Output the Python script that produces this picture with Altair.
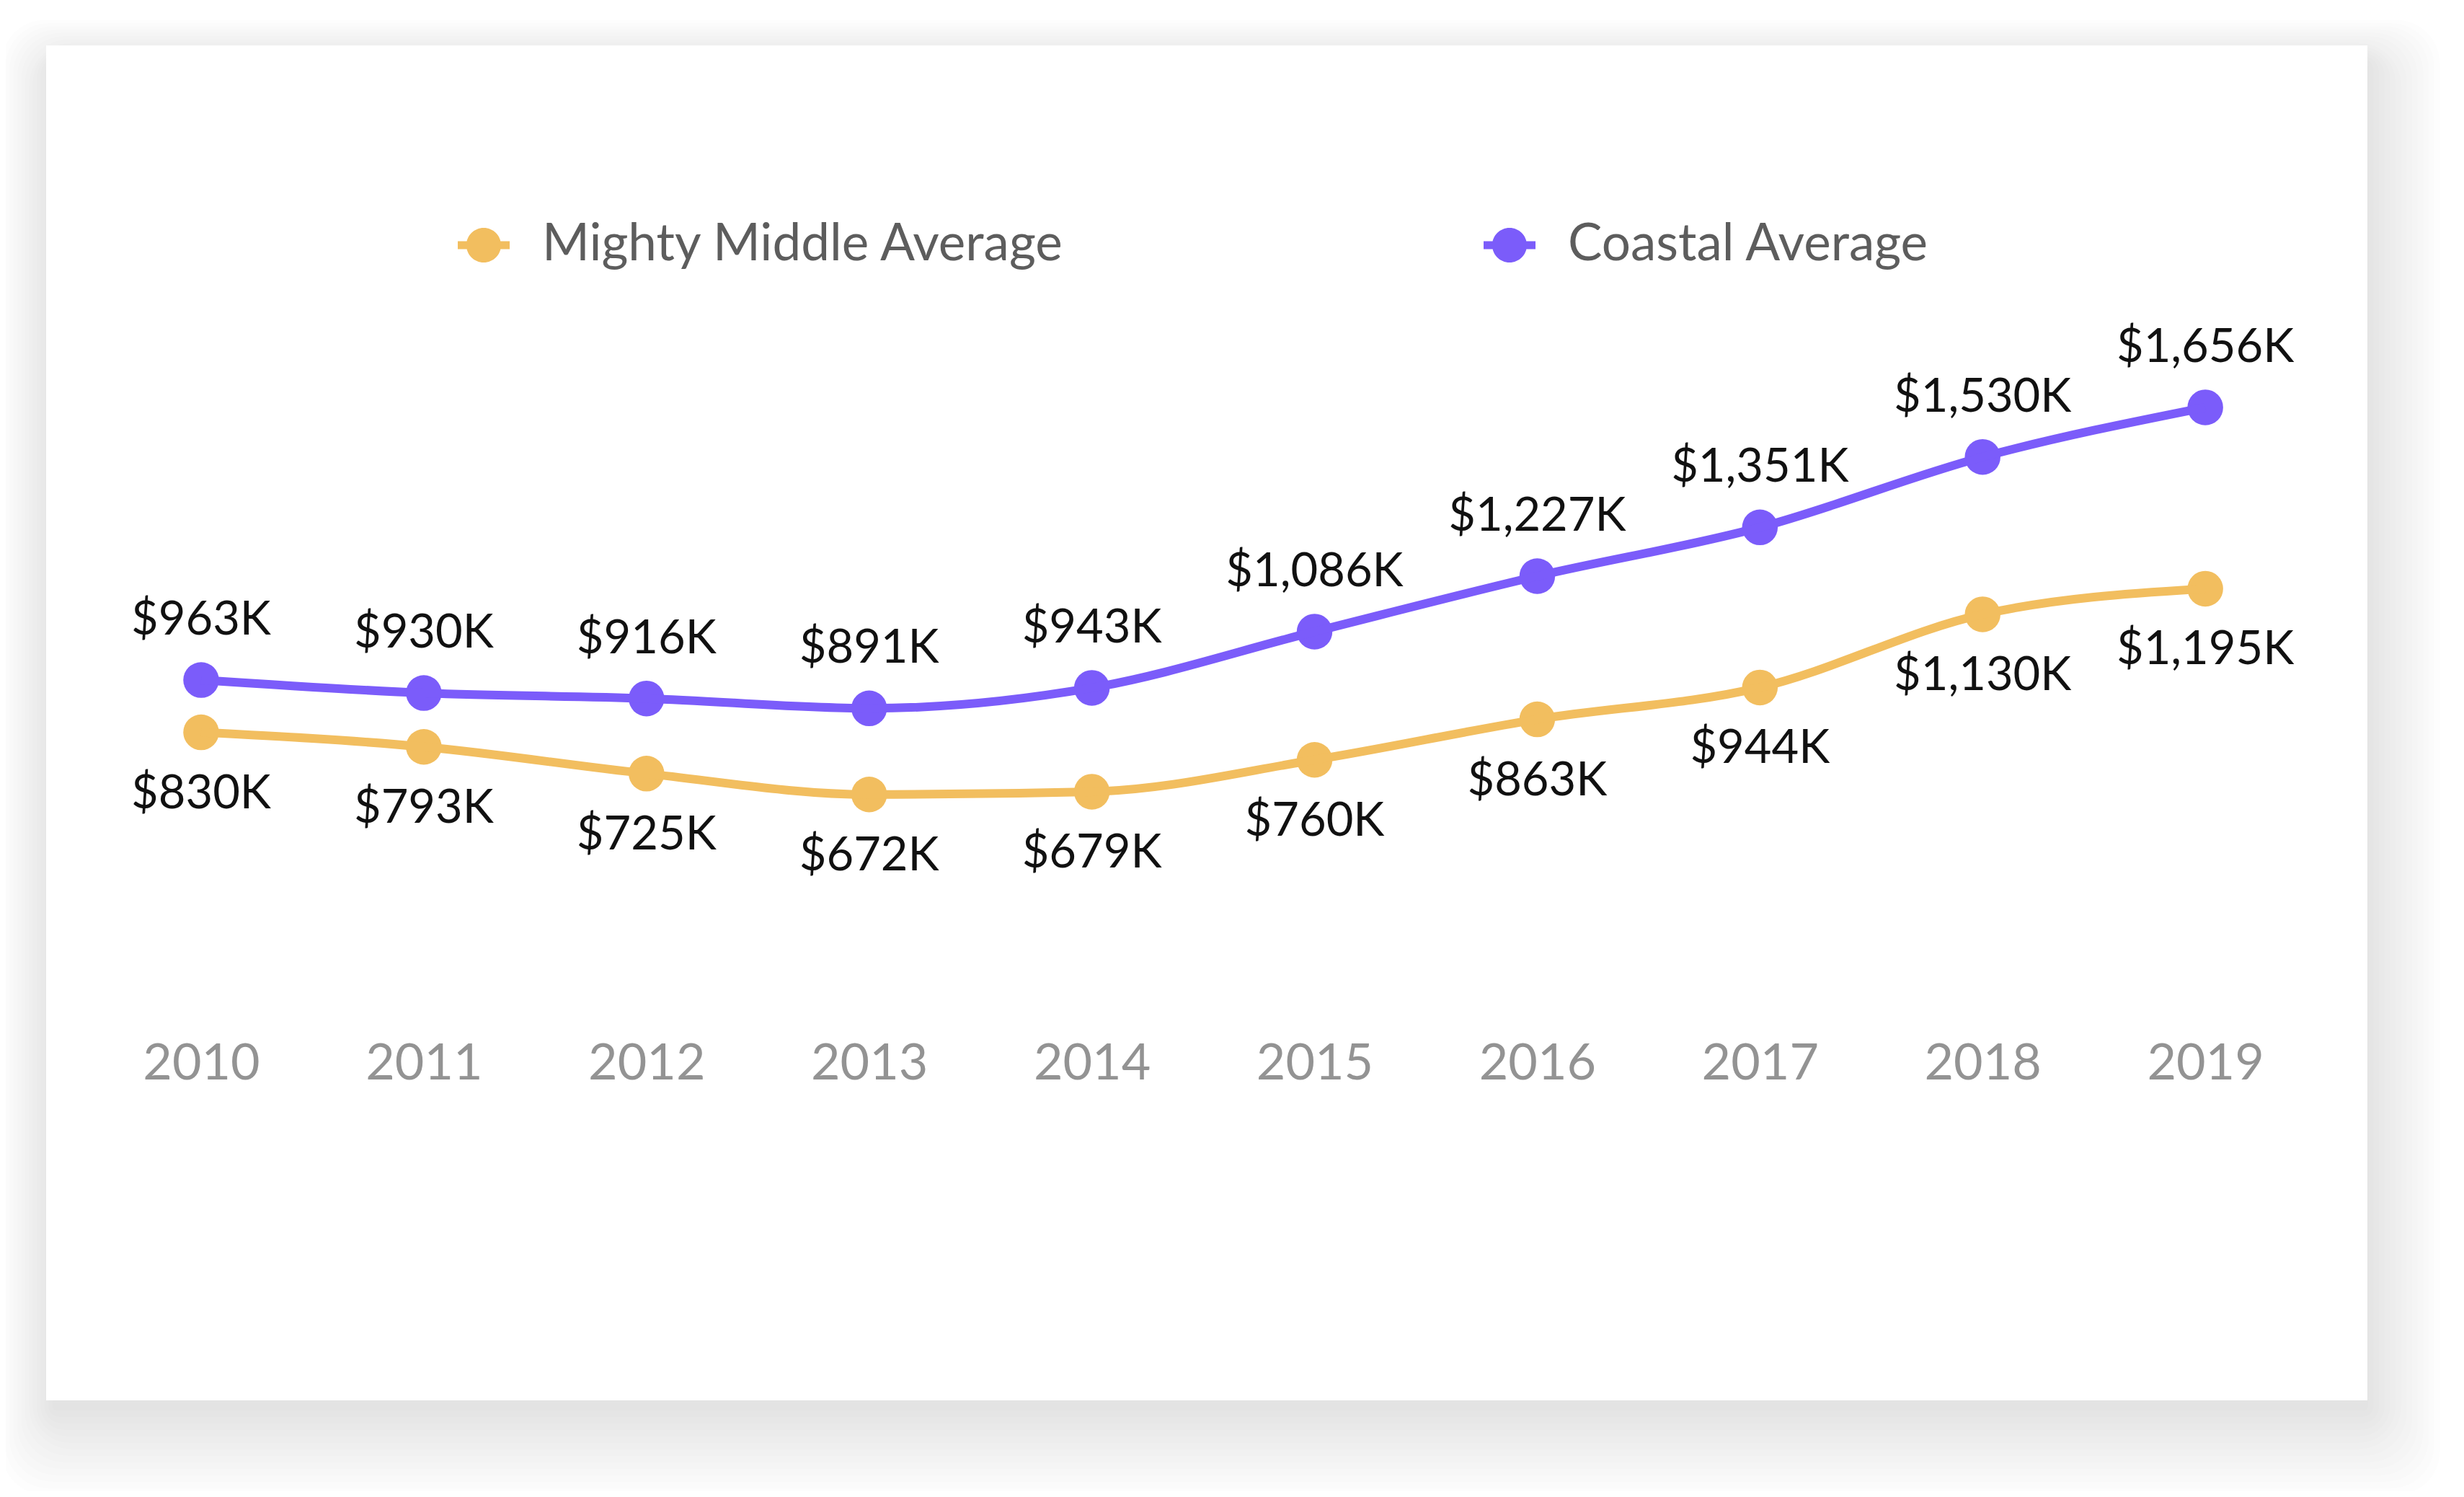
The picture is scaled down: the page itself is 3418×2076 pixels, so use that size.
import altair as alt
import pandas as pd

# ---- data ----
years = [2010, 2011, 2012, 2013, 2014, 2015, 2016, 2017, 2018, 2019]
mighty_middle = [830, 793, 725, 672, 679, 760, 863, 944, 1130, 1195]   # $K
coastal = [963, 930, 916, 891, 943, 1086, 1227, 1351, 1530, 1656]      # $K
series_names = ["Mighty Middle Average", "Coastal Average"]
series_colors = ["#F2BE5F", "#7B5CFA"]

rows = []
for yr, m, c in zip(years, mighty_middle, coastal):
    rows.append({"year": yr, "series": series_names[0], "value": m, "label": f"${m:,}K"})
    rows.append({"year": yr, "series": series_names[1], "value": c, "label": f"${c:,}K"})
df = pd.DataFrame(rows)

W, H = 3220, 1879
FONT = "Lato"

xscale = alt.Scale(domain=[2009.304, 2019.728], nice=False, zero=False)
yscale = alt.Scale(domain=[-868.3, 2576.2], nice=False, zero=False)
cscale = alt.Scale(domain=series_names, range=series_colors)

x_enc = alt.X(
    "year:Q", scale=xscale, title=None,
    axis=alt.Axis(values=years, format="d", orient="bottom", offset=-467,
                  ticks=False, domain=False, grid=False, labelFlush=False,
                  labelFont=FONT, labelFontSize=70, labelColor="#939393",
                  labelPadding=0, labelBaseline="middle", zindex=1),
)
y_enc = alt.Y("value:Q", scale=yscale, axis=None)

legend_symbol = ("M-1,-0.153H1V0.153H-1Z "
                 "M-0.667,0A0.667,0.667 0 1,1 0.667,0A0.667,0.667 0 1,1 -0.667,0Z")

legend = alt.Legend(
    title=None, orient="none", legendX=571, legendY=241, direction="horizontal",
    symbolType=legend_symbol, symbolSize=5184, symbolStrokeWidth=0, symbolOpacity=1,
    labelFont=FONT, labelFontSize=71, labelColor="#5d5d5d", labelOffset=45,
    columnPadding=580, padding=0, labelLimit=2000, zindex=1,
)

# ---- card shadow (decoration) ----
layers = []
N = 14
for i in range(N):
    s = 6 + i * 9
    layers.append(
        alt.Chart(alt.Data(values=[{"k": i}]))
        .mark_rect(color="black", opacity=0.0095, cornerRadius=min(s, 60))
        .encode(x=alt.value(12 - 0.6 * s), x2=alt.value(W - 4 + 0.85 * s),
                y=alt.value(26 - 0.5 * s), y2=alt.value(H + 8 + 1.0 * s))
    )
# white card
layers.append(
    alt.Chart(alt.Data(values=[{"k": 0}]))
    .mark_rect(color="white")
    .encode(x=alt.value(0), x2=alt.value(W), y=alt.value(0), y2=alt.value(H))
)

base = alt.Chart(df)

points = base.mark_point(filled=True, size=2450, opacity=1).encode(
    x=x_enc, y=y_enc, color=alt.Color("series:N", scale=cscale, legend=legend)
)
lines = base.mark_line(interpolate="monotone", strokeWidth=12).encode(
    x=x_enc, y=y_enc, color=alt.Color("series:N", scale=cscale, legend=None),
    detail="series:N",
)
labels_above = base.transform_filter(alt.datum.series == series_names[1]).mark_text(
    font=FONT, fontSize=65, color="#111111", dy=-83, baseline="middle", align="center"
).encode(x=x_enc, y=y_enc, text="label:N")
labels_below = base.transform_filter(alt.datum.series == series_names[0]).mark_text(
    font=FONT, fontSize=65, color="#111111", dy=85, baseline="middle", align="center"
).encode(x=x_enc, y=y_enc, text="label:N")

layers += [points, lines, labels_above, labels_below]

chart = (
    alt.layer(*layers)
    .properties(
        width=W, height=H,
        autosize=alt.AutoSizeParams(type="none"),
        padding={"left": 56, "top": 55, "right": 126, "bottom": 126},
        background="white",
    )
    .configure_view(stroke=None)
)

chart.save("out.html", embed_options={"renderer": "svg", "actions": False})
